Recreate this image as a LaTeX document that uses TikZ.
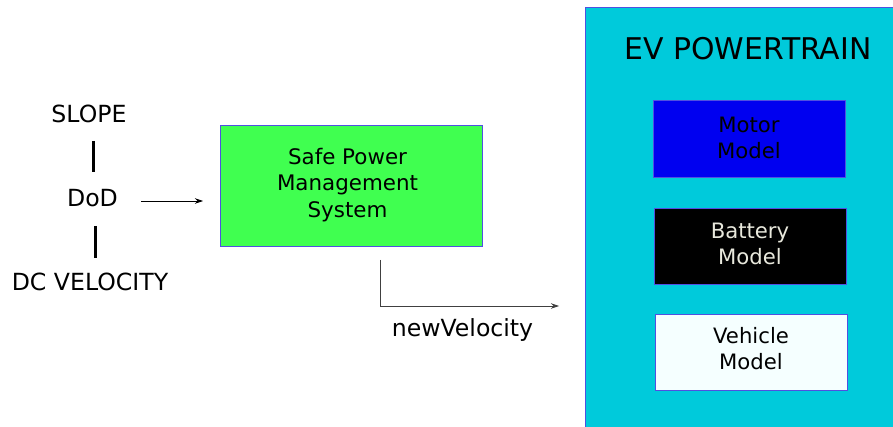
\documentclass[tikz,border=0pt]{standalone}
\usepackage{fontspec}
\setmainfont{DejaVu Sans}
\usetikzlibrary{arrows.meta}
\definecolor{spmgreen}{HTML}{40FF50}
\definecolor{evcyan}{HTML}{00CADB}
\definecolor{motorblue}{HTML}{0000F0}
\definecolor{edgeblue}{HTML}{5050E0}
\definecolor{vehwhite}{HTML}{F5FFFF}
\definecolor{battext}{HTML}{E8E8DC}
\tikzset{
  x=1pt, y=-1pt,
  inlabel/.style={inner sep=0pt, font=\fontsize{23.6}{27}\selectfont},
  block/.style={draw=edgeblue, line width=0.8pt, inner sep=0pt},
  blocktext/.style={inner sep=0pt, align=center, font=\fontsize{21.2}{26}\selectfont},
  bar/.style={line width=3pt},
  flow/.style={line width=0.7pt, -{Stealth[length=8pt,width=5.5pt]}},
}
\begin{document}
\begin{tikzpicture}
\useasboundingbox (0,0) rectangle (893,427);

% inputs
\node[inlabel] (slope) at (89,114) {SLOPE};
\node[inlabel] (dod) at (92.5,198) {DoD};
\node[inlabel] (dcv) at (90,282) {DC VELOCITY};
\coordinate (b1a) at (93.5,141);
\coordinate (b1b) at (93.5,172);
\coordinate (b2a) at (95.5,226);
\coordinate (b2b) at (95.5,258);
\draw[bar] (b1a) -- (b1b);
\draw[bar] (b2a) -- (b2b);

% safe power management system
\node[block, fill=spmgreen, minimum width=262pt, minimum height=121pt] (spm)
      at (351,185.5) {};
\node[blocktext, font=\fontsize{21.4}{26.5}\selectfont] (spmtext)
      at ([xshift=-3.5pt,yshift=0.5pt]spm.center) {Safe Power\\Management\\System};

\coordinate (inA) at (141,201);
\coordinate (inB) at (203,201);
\draw[flow] (inA) -- (inB);

% EV powertrain container
\node[draw=edgeblue, line width=1pt, fill=evcyan, minimum width=320pt,
      minimum height=430pt, inner sep=0pt, anchor=north west] (ev) at (585,7) {};
\node[inner sep=0pt, font=\fontsize{29.9}{34}\selectfont] (evtitle) at (748,49) {EV POWERTRAIN};

\node[block, fill=motorblue, minimum width=192pt, minimum height=77pt] (motor)
      at (749,138.5) {};
\node[blocktext] (motortext) at ([yshift=0.5pt]motor.center) {Motor\\Model};
\node[block, fill=black, minimum width=192pt, minimum height=76pt] (battery)
      at (750,246) {};
\node[blocktext, text=battext] (batterytext) at ([yshift=2.5pt]battery.center) {Battery\\Model};
\node[block, fill=vehwhite, minimum width=192pt, minimum height=76pt] (vehicle)
      at (751,352) {};
\node[blocktext] (vehicletext) at ([yshift=3pt]vehicle.center) {Vehicle\\Model};

% output velocity
\coordinate (outA) at (380,260);
\coordinate (outB) at (380,306);
\coordinate (outC) at (559,306);
\draw[flow, draw=black!75] (outA) -- (outB) -- (outC);
\node[inlabel] (newv) at (462.5,330) {newVelocity};
\end{tikzpicture}
\end{document}
